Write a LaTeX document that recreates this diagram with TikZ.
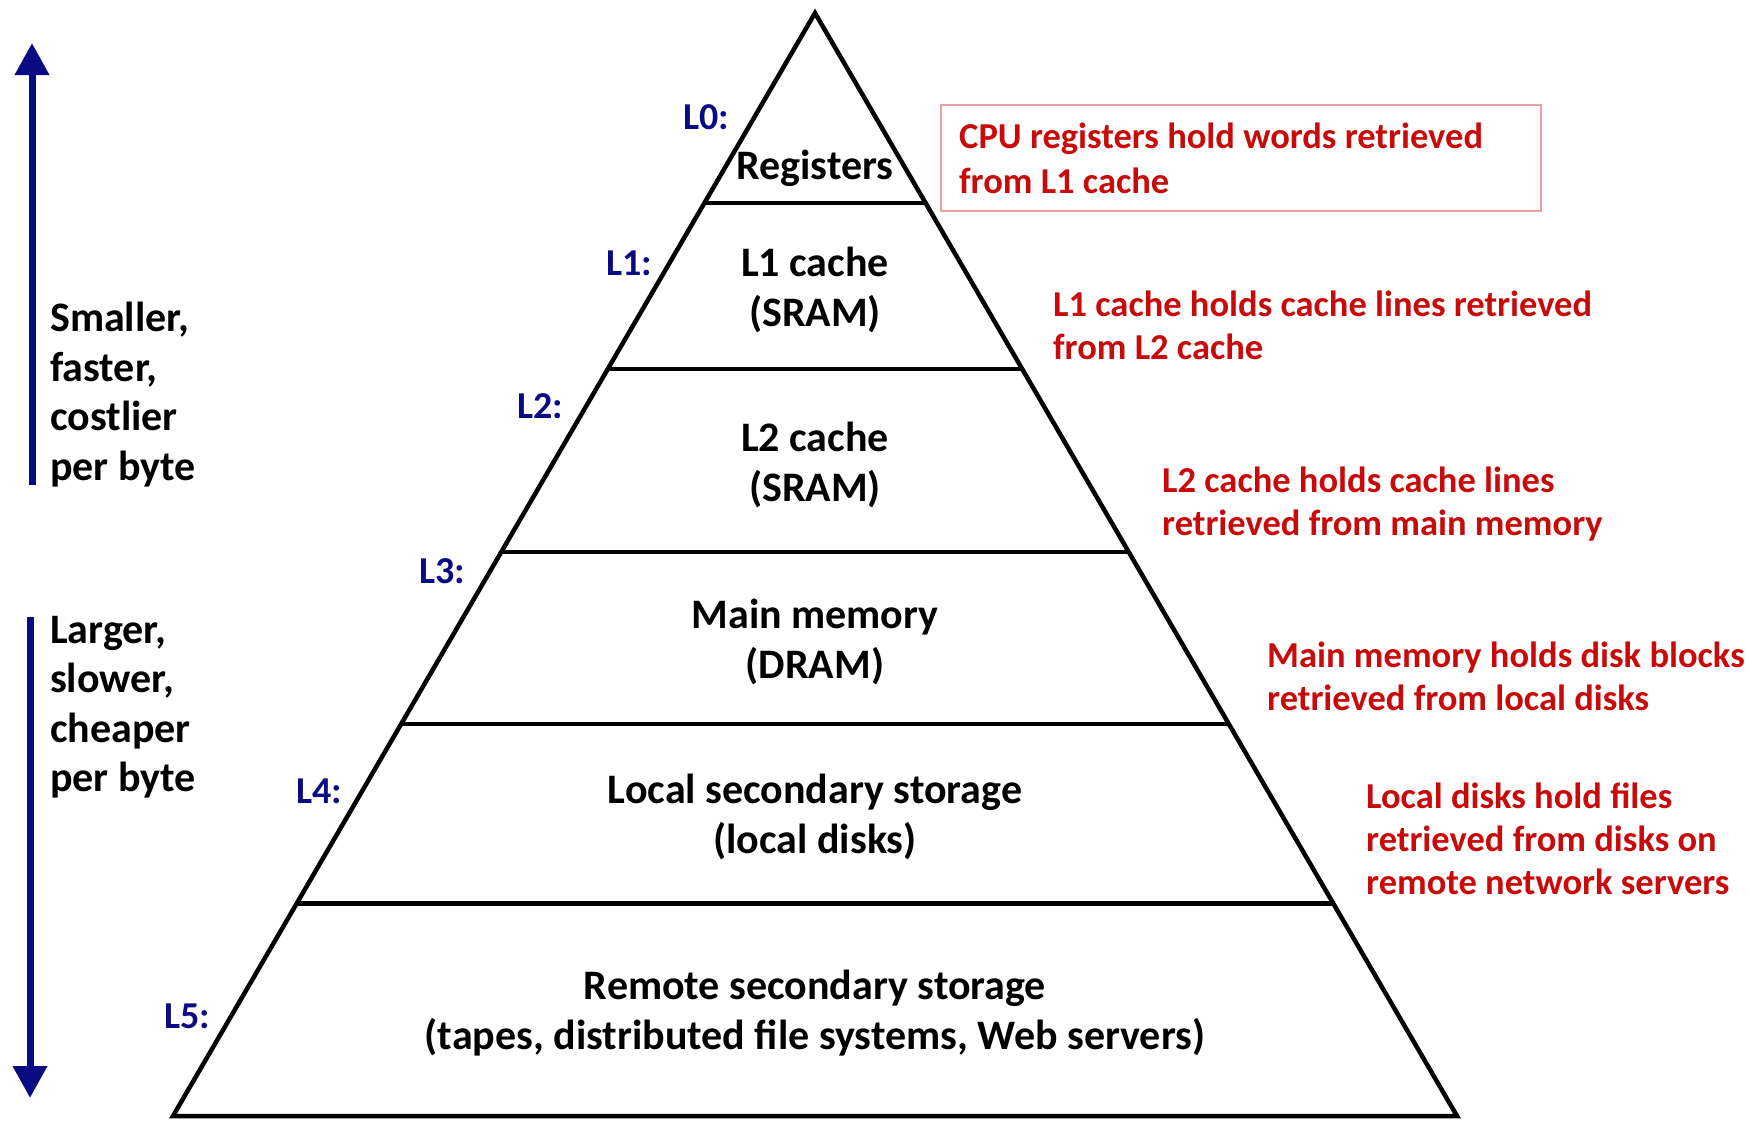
\documentclass[tikz,border=0pt]{standalone}
\usepackage{fontspec}
\setmainfont{Carlito}
\usetikzlibrary{calc,arrows.meta}
\definecolor{navyblue}{RGB}{10,10,130}
\definecolor{darkred}{RGB}{200,10,10}
\definecolor{boxred}{RGB}{232,160,160}
\tikzset{
  pyr/.style={line width=4.5pt, line join=miter},
  blk/.style={inner sep=0pt, align=center, font=\bfseries\fontsize{42}{50}\selectfont},
  side/.style={inner sep=0pt, align=left, anchor=west, font=\bfseries\fontsize{42}{49.4}\selectfont},
  lvl/.style={inner sep=0pt, text=navyblue, font=\bfseries\fontsize{38}{44}\selectfont},
  note/.style={inner sep=0pt, align=left, anchor=west, text=darkred, font=\bfseries\fontsize{36.5}{43}\selectfont},
  bigarrow/.style={navyblue, line width=7pt, -{Triangle[width=33pt,length=32pt]}}
}
\begin{document}
\begin{tikzpicture}[x=1pt,y=-1pt]
\useasboundingbox (0,0) rectangle (1749,1120);
\fill[white] (0,0) rectangle (1749,1120);
% pyramid
\coordinate (A) at (815,13);
\coordinate (BL) at (173,1116);
\coordinate (BR) at (1457,1116);
\draw[pyr] (BL) -- (A) -- (BR) -- cycle;
\foreach \t in {0.1723,0.3228,0.4887,0.6446,0.8073}{
  \draw[pyr] ($(A)!\t!(BL)$) -- ($(A)!\t!(BR)$);
}
% level texts
\node[blk] (reg) at (815,168) {Registers};
\node[blk] (l1c) at (815,290) {L1 cache\\(SRAM)};
\node[blk] (l2c) at (815,465) {L2 cache\\(SRAM)};
\node[blk] (mm) at (815,642) {Main memory\\(DRAM)};
\node[blk] (lss) at (815,816.5) {Local secondary storage\\(local disks)};
\node[blk] (rss) at (815,1013.5) {Remote secondary storage\\(tapes, distributed file systems, Web servers)};
% level labels
\node[lvl] (lab0) at (706,117) {L0:};
\node[lvl] (lab1) at (629,263) {L1:};
\node[lvl] (lab2) at (540,406) {L2:};
\node[lvl] (lab3) at (442,571) {L3:};
\node[lvl] (lab4) at (319,791) {L4:};
\node[lvl] (lab5) at (187,1016) {L5:};
% notes
\node[draw=boxred, line width=2pt, anchor=north west, minimum width=600pt, minimum height=106pt,
      inner sep=0pt] (box0) at (940,104) {};
\node[note, font=\bfseries\fontsize{36.5}{45}\selectfont] (n0) at (959,158.5)
      {CPU registers hold words retrieved\\from L1 cache};
\node[note] (n1) at (1053,325.5) {L1 cache holds cache lines retrieved\\from L2 cache};
\node[note] (n2) at (1162,504) {L2 cache holds cache lines\\retrieved from main memory};
\node[note] (n3) at (1267,676.5) {Main memory holds disk blocks\\retrieved from local disks};
\node[note] (n4) at (1366,838.5) {Local disks hold files\\retrieved from disks on\\remote network servers};
% side texts and arrows
\node[side] (up) at (50,394.5) {Smaller,\\faster,\\costlier\\per byte};
\node[side] (down) at (50,707) {Larger,\\slower,\\cheaper\\per byte};
\coordinate (u0) at (32,485);
\coordinate (u1) at (32,43);
\coordinate (d0) at (30,617);
\coordinate (d1) at (30,1098);
\draw[bigarrow] (u0) -- (u1);
\draw[bigarrow] (d0) -- (d1);
\end{tikzpicture}
\end{document}
